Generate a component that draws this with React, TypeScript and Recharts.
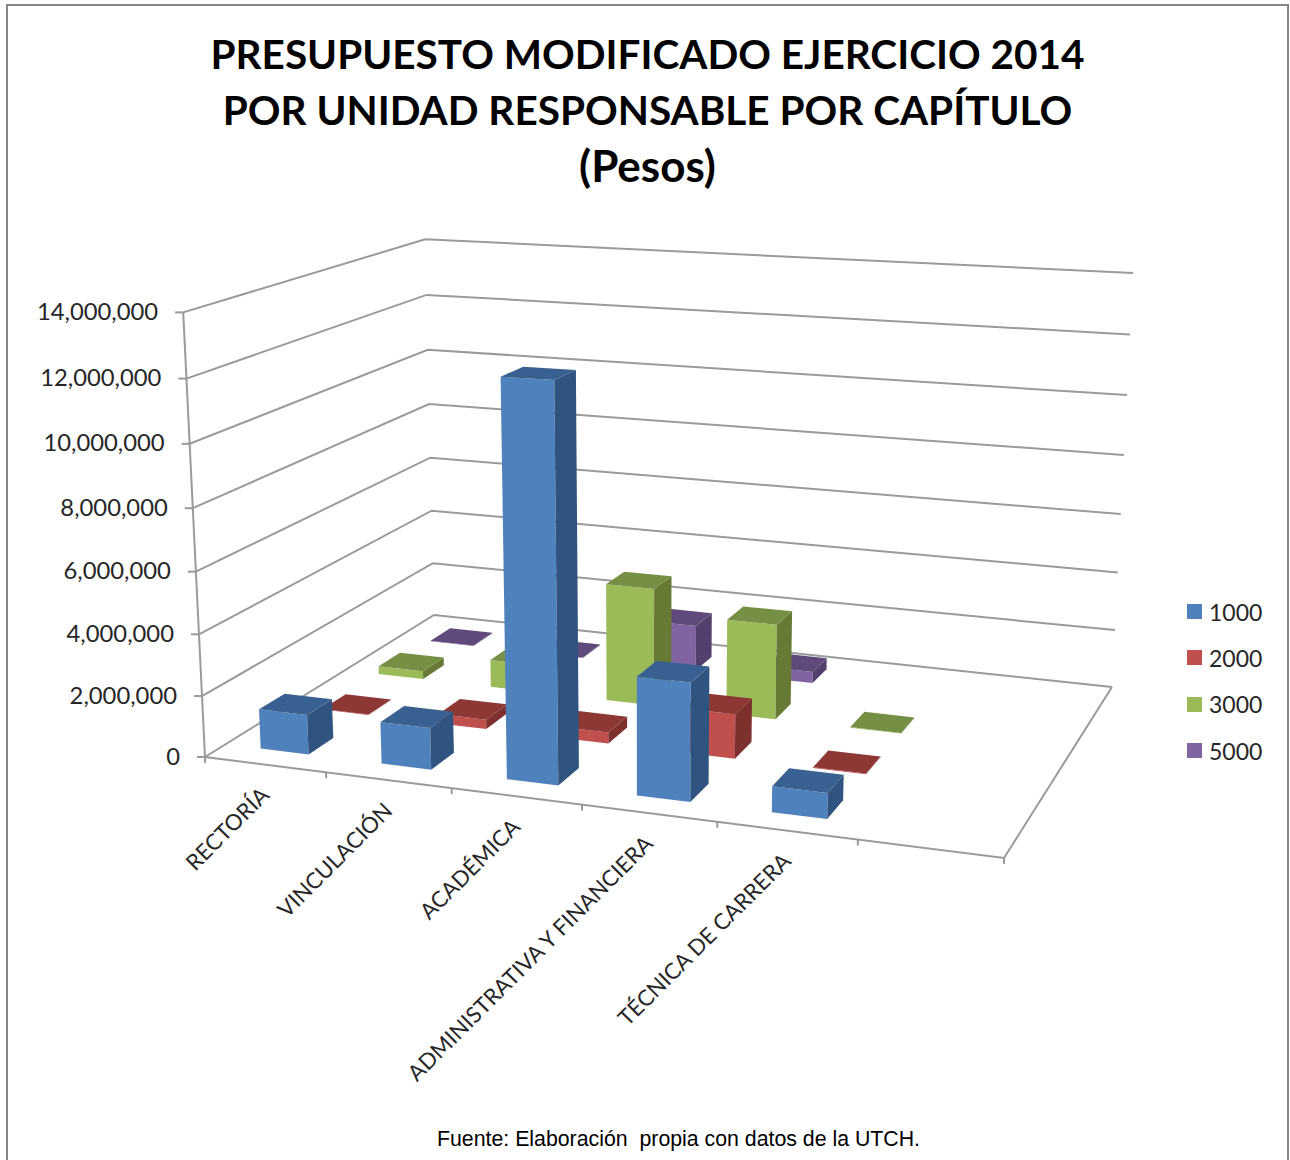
import { BarChart, Bar, XAxis, YAxis, CartesianGrid, Legend, Customized } from "recharts";

const CATEGORIES = ["RECTORÍA", "VINCULACIÓN", "ACADÉMICA", "ADMINISTRATIVA Y FINANCIERA", "TÉCNICA DE CARRERA", ""];
const CAP_1000 = [1300000, 1350000, 12400000, 3700000, 800000, null];
const CAP_2000 = [20000, 320000, 370000, 1450000, 20000, null];
const CAP_3000 = [280000, 950000, 4000000, 3200000, 20000, null];
const CAP_5000 = [20000, 20000, 1600000, 400000, null, null];
const Y_TICKS = [0, 2000000, 4000000, 6000000, 8000000, 10000000, 12000000, 14000000];
const TITLE_LINES = ["PRESUPUESTO MODIFICADO EJERCICIO 2014", "POR UNIDAD RESPONSABLE POR CAPÍTULO", "(Pesos)"];
const FOOTER = "Fuente: Elaboración  propia con datos de la UTCH.";

const chartData = CATEGORIES.map((name, i) => ({
  name,
  c1000: CAP_1000[i],
  c2000: CAP_2000[i],
  c3000: CAP_3000[i],
  c5000: CAP_5000[i],
}));

const W = 1290;
const H = 1160;
const BAR_SIZE = (W / CATEGORIES.length) * 0.4;
const BAR_DEPTH = 0.4 / 4; // same share of a row as the width share of a band
const GRID = "#9a9a9a";
const TEXT = "#262626";
const FONT = "Lato, sans-serif";

// floor corners on screen, front left / front right / back right / back left
const [x0, y0] = [205, 757];
const [x1, y1] = [1004, 858];
const [x2, y2] = [1112, 687];
const [x3, y3] = [434, 615];
const VP = [648, 9772]; // verticals meet here, far below the chart
const LIFT = 0.047;
const LIFT_G = -0.114;
const U_WARP = 0.98;

const dx1 = x1 - x2;
const dx2 = x3 - x2;
const dy1 = y1 - y2;
const dy2 = y3 - y2;
const sx = x0 - x1 + x2 - x3;
const sy = y0 - y1 + y2 - y3;
const den = dx1 * dy2 - dx2 * dy1;
const g = (sx * dy2 - dx2 * sy) / den;
const h = (dx1 * sy - sx * dy1) / den;

// u along categories, d into the chart, v up the value axis, all 0..1
function project(rawU: number, d: number, v: number): [number, number] {
  const u = (U_WARP * rawU) / (1 + (U_WARP - 1) * rawU);
  const w = g * u + h * d + 1;
  const fx = ((x1 - x0 + g * x1) * u + (x3 - x0 + h * x3) * d + x0) / w;
  const fy = ((y1 - y0 + g * y1) * u + (y3 - y0 + h * y3) * d + y0) / w;
  const wLift = LIFT_G * u + h * d + 1;
  const k = wLift / (wLift - v * LIFT);
  return [VP[0] + (fx - VP[0]) * k, VP[1] + (fy - VP[1]) * k];
}

const pts = (list: [number, number][]) => list.map((p) => p[0].toFixed(1) + "," + p[1].toFixed(1)).join(" ");

function Prism(props: any) {
  const { x, y, width, height, row, front, side, top } = props;
  if (props.value == null) return null;
  const shift = 0.002 - (0.003 * (3 - row)) / 3;
  const u0 = x / W + shift;
  const u1 = (x + width) / W + shift;
  const v = 1 - y / H;
  const base = (1 - y / H) - height / H;
  const center = 0.127 + row * 0.246;
  const d0 = center - BAR_DEPTH / 2;
  const d1 = center + BAR_DEPTH / 2;
  return (
    <g>
      <polygon fill={front} points={pts([project(u0, d0, base), project(u1, d0, base), project(u1, d0, v), project(u0, d0, v)])} />
      <polygon fill={side} points={pts([project(u1, d0, base), project(u1, d1, base), project(u1, d1, v), project(u1, d0, v)])} />
      <polygon fill={top} points={pts([project(u0, d0, v), project(u1, d0, v), project(u1, d1, v), project(u0, d1, v)])} />
    </g>
  );
}

function WallLine(props: any) {
  const v = 1 - props.y1 / H;
  return (
    <polyline
      key={props.key ?? props.y1}
      fill="none"
      stroke={GRID}
      strokeWidth={2}
      points={pts([project(0, 0, v), project(0, 1, v), project(1, 1, v)])}
    />
  );
}

function ValueTick(props: any) {
  const v = 1 - props.y / H;
  const [px, py] = project(0, 0, v);
  return (
    <g>
      <line x1={px - 8} y1={py} x2={px} y2={py} stroke={GRID} strokeWidth={2} />
      <text x={px - 25} y={py + 7.5} textAnchor="end" fontFamily={FONT} fontSize={23.8} fill={TEXT}>
        {Number(props.payload.value).toLocaleString("en-US")}
      </text>
    </g>
  );
}

function CategoryTick(props: any) {
  const { index, payload } = props;
  const n = CATEGORIES.length;
  const mark = (u: number) => {
    const [px, py] = project(u, 0, 0);
    return <line key={u} x1={px} y1={py} x2={px} y2={py + 6} stroke={GRID} strokeWidth={2} />;
  };
  const [lx, ly] = project((index + 0.5) / n, 0, 0);
  return (
    <g>
      {mark(index / n)}
      {index === n - 1 && mark(1)}
      <text
        textAnchor="end"
        fontFamily={FONT}
        fontSize={22.2}
        fill={TEXT}
        transform={`translate(${lx + 5.5} ${ly + 32}) rotate(-45)`}
      >
        {payload.value}
      </text>
    </g>
  );
}

function FloorEdges() {
  return (
    <g fill="none" stroke={GRID} strokeWidth={2}>
      <polyline points={pts([project(0, 0, 1), project(0, 0, 0), project(1, 0, 0), project(1, 1, 0)])} />
    </g>
  );
}

function ChapterLegend(props: any) {
  return (
    <div style={{ fontFamily: FONT, fontSize: 23, color: TEXT }}>
      {props.payload.map((item: any) => (
        <div key={item.value} style={{ display: "flex", alignItems: "center", height: 46.3 }}>
          <span style={{ width: 15, height: 15, background: item.color, marginRight: 7 }} />
          {item.value}
        </div>
      ))}
    </div>
  );
}

export default function App() {
  return (
    <div style={{ position: "absolute", left: 0, top: 0, width: W, height: H, overflow: "hidden", background: "#fff" }}>
      <div
        style={{
          position: "absolute",
          left: 6,
          top: 4,
          width: 1283,
          height: 1200,
          border: "2.5px solid #868686",
          boxSizing: "border-box",
        }}
      />
      {TITLE_LINES.map((line, i) => (
        <div
          key={line}
          style={{
            position: "absolute",
            left: 0,
            width: 1295,
            top: 28 + i * 56 - (i === 2 ? 1 : 0),
            textAlign: "center",
            fontFamily: FONT,
            fontWeight: 700,
            fontSize: i === 2 ? 44 : 40.5,
            lineHeight: "52px",
            color: "#000",
          }}
        >
          {line}
        </div>
      ))}
      <div style={{ position: "absolute", left: 0, top: 0 }}>
        <BarChart
          width={W}
          height={H}
          data={chartData}
          margin={{ top: 0, right: 0, bottom: -1, left: -1 }}
          barSize={BAR_SIZE}
          barGap={-BAR_SIZE}
        >
          <CartesianGrid vertical={false} horizontal={WallLine as any} />
          <XAxis dataKey="name" height={1} interval={0} axisLine={false} tickLine={false} tick={CategoryTick as any} />
          <YAxis
            width={1}
            domain={[0, 14000000]}
            ticks={Y_TICKS}
            interval={0}
            axisLine={false}
            tickLine={false}
            tick={ValueTick as any}
          />
          <Customized component={FloorEdges} />
          <Legend
            layout="vertical"
            align="center"
            verticalAlign="middle"
            wrapperStyle={{ left: 1187, top: 588.5, width: 90 }}
            content={ChapterLegend as any}
          />
          <Bar
            dataKey="c5000"
            name="5000"
            fill="#8064A2"
            isAnimationActive={false}
            shape={(p: any) => <Prism {...p} row={3} front="#8064A2" side="#533F6C" top="#604A7B" />}
          />
          <Bar
            dataKey="c3000"
            name="3000"
            fill="#9BBB59"
            isAnimationActive={false}
            shape={(p: any) => <Prism {...p} row={2} front="#9BBB59" side="#667A36" top="#758F44" />}
          />
          <Bar
            dataKey="c2000"
            name="2000"
            fill="#C0504D"
            isAnimationActive={false}
            shape={(p: any) => <Prism {...p} row={1} front="#C0504D" side="#7D302E" top="#8E3835" />}
          />
          <Bar
            dataKey="c1000"
            name="1000"
            fill="#4F81BD"
            isAnimationActive={false}
            shape={(p: any) => <Prism {...p} row={0} front="#4F81BD" side="#2F5480" top="#386192" />}
          />
        </BarChart>
      </div>
      <div
        style={{
          position: "absolute",
          left: 437,
          top: 1127,
          whiteSpace: "pre",
          fontFamily: "'Liberation Sans', sans-serif",
          fontSize: 21.3,
          color: "#000",
        }}
      >
        {FOOTER}
      </div>
    </div>
  );
}
